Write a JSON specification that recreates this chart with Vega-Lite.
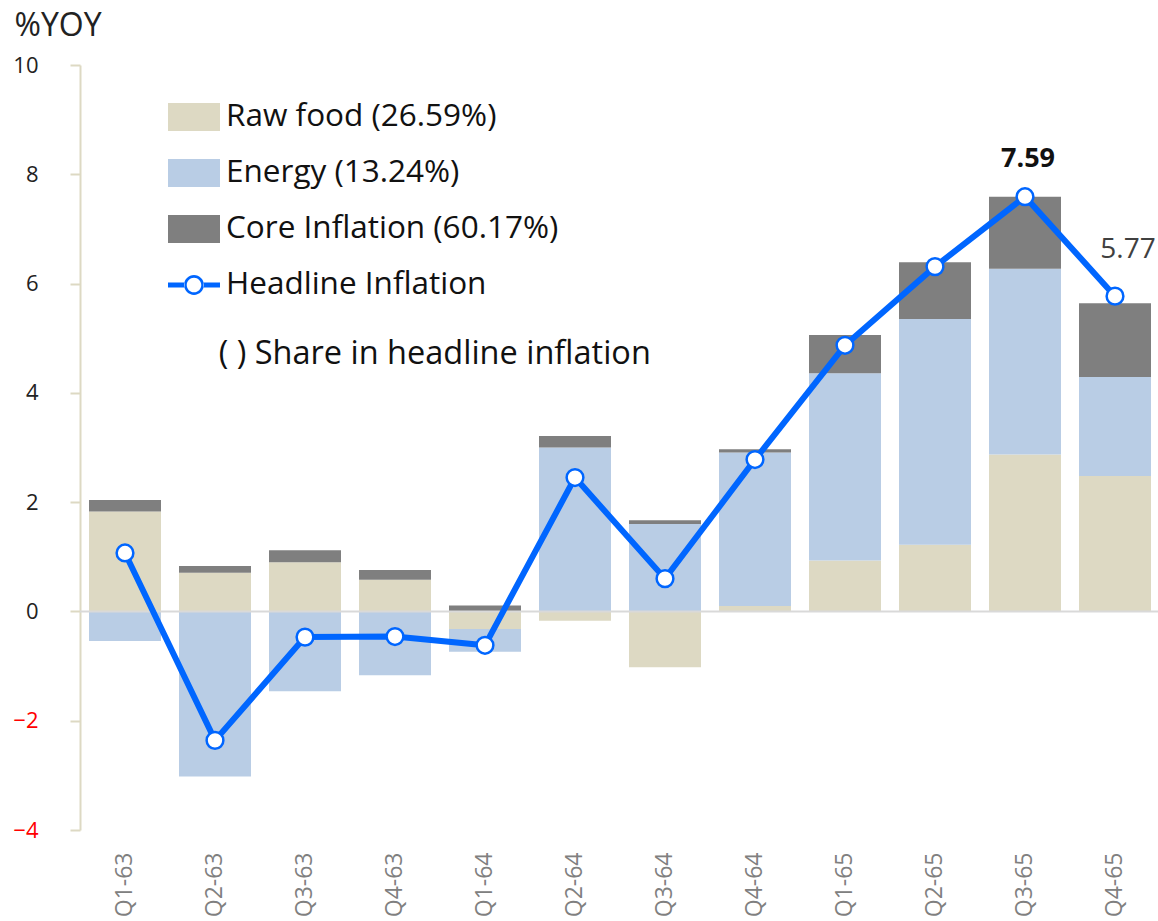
{
  "$schema": "https://vega.github.io/schema/vega-lite/v6.json",
  "autosize": {"type": "none"},
  "width": 1080,
  "height": 765,
  "padding": {"left": 80, "top": 65, "right": 0, "bottom": 91},
  "config": {"view": {"stroke": null}, "font": "Open Sans"},
  "datasets": {
    "bars": [
      {"quarter": "Q1-63", "series": "Raw food (26.59%)", "value": 1.83},
      {"quarter": "Q1-63", "series": "Energy (13.24%)", "value": -0.54},
      {"quarter": "Q1-63", "series": "Core Inflation (60.17%)", "value": 0.21},
      {"quarter": "Q2-63", "series": "Raw food (26.59%)", "value": 0.71},
      {"quarter": "Q2-63", "series": "Energy (13.24%)", "value": -3.02},
      {"quarter": "Q2-63", "series": "Core Inflation (60.17%)", "value": 0.12},
      {"quarter": "Q3-63", "series": "Raw food (26.59%)", "value": 0.90},
      {"quarter": "Q3-63", "series": "Energy (13.24%)", "value": -1.46},
      {"quarter": "Q3-63", "series": "Core Inflation (60.17%)", "value": 0.22},
      {"quarter": "Q4-63", "series": "Raw food (26.59%)", "value": 0.58},
      {"quarter": "Q4-63", "series": "Energy (13.24%)", "value": -1.17},
      {"quarter": "Q4-63", "series": "Core Inflation (60.17%)", "value": 0.18},
      {"quarter": "Q1-64", "series": "Raw food (26.59%)", "value": -0.32},
      {"quarter": "Q1-64", "series": "Energy (13.24%)", "value": -0.42},
      {"quarter": "Q1-64", "series": "Core Inflation (60.17%)", "value": 0.11},
      {"quarter": "Q2-64", "series": "Raw food (26.59%)", "value": -0.17},
      {"quarter": "Q2-64", "series": "Energy (13.24%)", "value": 3.00},
      {"quarter": "Q2-64", "series": "Core Inflation (60.17%)", "value": 0.21},
      {"quarter": "Q3-64", "series": "Raw food (26.59%)", "value": -1.02},
      {"quarter": "Q3-64", "series": "Energy (13.24%)", "value": 1.60},
      {"quarter": "Q3-64", "series": "Core Inflation (60.17%)", "value": 0.07},
      {"quarter": "Q4-64", "series": "Raw food (26.59%)", "value": 0.10},
      {"quarter": "Q4-64", "series": "Energy (13.24%)", "value": 2.81},
      {"quarter": "Q4-64", "series": "Core Inflation (60.17%)", "value": 0.06},
      {"quarter": "Q1-65", "series": "Raw food (26.59%)", "value": 0.93},
      {"quarter": "Q1-65", "series": "Energy (13.24%)", "value": 3.43},
      {"quarter": "Q1-65", "series": "Core Inflation (60.17%)", "value": 0.70},
      {"quarter": "Q2-65", "series": "Raw food (26.59%)", "value": 1.22},
      {"quarter": "Q2-65", "series": "Energy (13.24%)", "value": 4.13},
      {"quarter": "Q2-65", "series": "Core Inflation (60.17%)", "value": 1.04},
      {"quarter": "Q3-65", "series": "Raw food (26.59%)", "value": 2.87},
      {"quarter": "Q3-65", "series": "Energy (13.24%)", "value": 3.40},
      {"quarter": "Q3-65", "series": "Core Inflation (60.17%)", "value": 1.32},
      {"quarter": "Q4-65", "series": "Raw food (26.59%)", "value": 2.48},
      {"quarter": "Q4-65", "series": "Energy (13.24%)", "value": 1.81},
      {"quarter": "Q4-65", "series": "Core Inflation (60.17%)", "value": 1.35}
    ],
    "headline": [
      {"quarter": "Q1-63", "headline": 1.07},
      {"quarter": "Q2-63", "headline": -2.36},
      {"quarter": "Q3-63", "headline": -0.47},
      {"quarter": "Q4-63", "headline": -0.46},
      {"quarter": "Q1-64", "headline": -0.62},
      {"quarter": "Q2-64", "headline": 2.45},
      {"quarter": "Q3-64", "headline": 0.60},
      {"quarter": "Q4-64", "headline": 2.78},
      {"quarter": "Q1-65", "headline": 4.87},
      {"quarter": "Q2-65", "headline": 6.31},
      {"quarter": "Q3-65", "headline": 7.59},
      {"quarter": "Q4-65", "headline": 5.77}
    ]
  },
  "layer": [
    {
      "data": {"name": "bars"},
      "mark": {"type": "bar"},
      "encoding": {
        "x": {
          "field": "quarter", "type": "nominal", "sort": null,
          "scale": {"paddingInner": 0.2, "paddingOuter": 0.1},
          "axis": {"title": null, "domain": false, "ticks": false, "labelAngle": -90, "labelFontSize": 23, "labelColor": "#808080", "labelPadding": 22}
        },
        "y": {
          "field": "value", "type": "quantitative", "stack": "zero",
          "scale": {"domain": [-4, 10], "nice": false},
          "axis": {
            "values": [-4, -2, 0, 2, 4, 6, 8, 10], "grid": false, "format": "d",
            "domainColor": "#DDD9C3", "domainWidth": 2,
            "tickColor": "#DDD9C3", "tickSize": 10, "tickWidth": 2,
            "labelFontSize": 22, "labelPadding": 32,
            "labelColor": {"condition": {"test": "datum.value < 0", "value": "#FF0000"}, "value": "#222222"},
            "title": "%YOY", "titleAngle": 0, "titleAlign": "left", "titleBaseline": "alphabetic",
            "titleX": -66, "titleY": -30, "titleFontSize": 32, "titleFontWeight": "normal", "titleColor": "#222222"
          }
        },
        "color": {
          "field": "series", "type": "nominal",
          "sort": ["Raw food (26.59%)", "Energy (13.24%)", "Core Inflation (60.17%)", "Headline Inflation"],
          "scale": {
            "domain": ["Raw food (26.59%)", "Energy (13.24%)", "Core Inflation (60.17%)", "Headline Inflation"],
            "range": ["#DDD9C3", "#B9CDE5", "#7F7F7F", "#0066FF"]
          },
          "legend": {
            "orient": "none", "legendX": 88, "legendY": 26, "padding": 0,
            "title": "\u200b\u00a0\u00a0\u00a0\u00a0\u00a0\u00a0( ) Share in headline inflation",
            "titleOrient": "bottom", "titleAnchor": "start", "titleAlign": "left",
            "titleFontSize": 32.5, "titleFontWeight": "normal", "titleColor": "#111111", "titlePadding": 37, "titleLimit": 900,
            "labelFontSize": 31.5, "labelColor": "#111111", "labelOffset": 6, "labelLimit": 700,
            "symbolSize": 2704, "symbolStrokeWidth": 0, "symbolOpacity": 1, "rowPadding": 14,
            "encode": {
              "symbols": {
                "update": {
                  "shape": {"signal": "datum.value === 'Headline Inflation' ? 'M-1,-0.1H-0.36V0.1H-1Z M0.36,-0.1H1V0.1H0.36Z M-0.38,0 A0.38,0.38 0 1,0 0.38,0 A0.38,0.38 0 1,0 -0.38,0 Z M-0.28,0 A0.28,0.28 0 1,1 0.28,0 A0.28,0.28 0 1,1 -0.28,0 Z' : 'M-1,-0.54H1V0.54H-1Z'"}
                }
              }
            }
          }
        }
      }
    },
    {
      "data": {"values": [{}]},
      "mark": {"type": "rule", "color": "#D9D9D9", "strokeWidth": 2},
      "encoding": {"y": {"datum": 0, "type": "quantitative", "scale": {"domain": [-4, 10], "nice": false}}}
    },
    {
      "data": {"name": "headline"},
      "mark": {
        "type": "line", "color": "#0066FF", "strokeWidth": 6,
        "point": {"filled": true, "fill": "#FFFFFF", "stroke": "#0066FF", "strokeWidth": 2.5, "size": 280, "opacity": 1}
      },
      "encoding": {
        "x": {"field": "quarter", "type": "nominal", "sort": null},
        "y": {"field": "headline", "type": "quantitative", "scale": {"domain": [-4, 10], "nice": false}}
      }
    },
    {
      "data": {"name": "headline"},
      "transform": [{"filter": "datum.quarter == 'Q3-65'"}],
      "mark": {"type": "text", "fontSize": 27, "fontWeight": "bold", "color": "#111111", "dx": 3, "dy": -38},
      "encoding": {
        "x": {"field": "quarter", "type": "nominal", "sort": null},
        "y": {"field": "headline", "type": "quantitative", "scale": {"domain": [-4, 10], "nice": false}},
        "text": {"field": "headline", "type": "quantitative", "format": ".2f"}
      }
    },
    {
      "data": {"name": "headline"},
      "transform": [{"filter": "datum.quarter == 'Q4-65'"}],
      "mark": {"type": "text", "fontSize": 28, "color": "#404040", "dx": 13, "dy": -46},
      "encoding": {
        "x": {"field": "quarter", "type": "nominal", "sort": null},
        "y": {"field": "headline", "type": "quantitative", "scale": {"domain": [-4, 10], "nice": false}},
        "text": {"field": "headline", "type": "quantitative", "format": ".2f"}
      }
    }
  ]
}
